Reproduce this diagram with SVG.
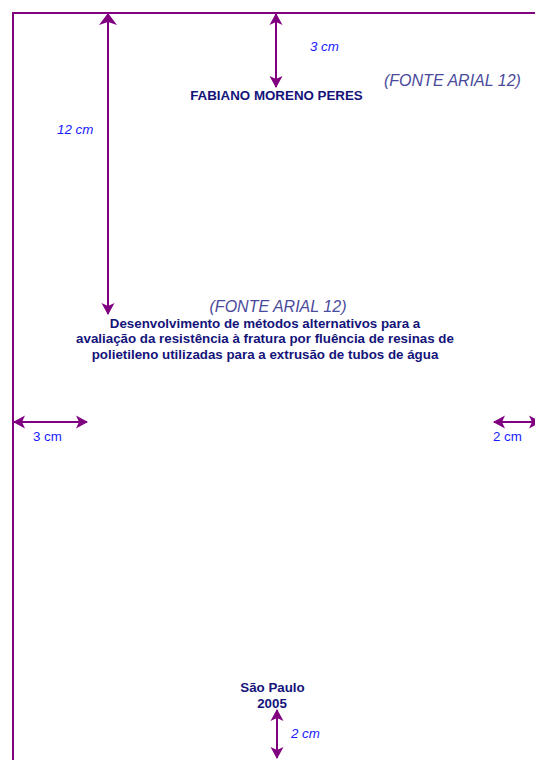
<svg xmlns="http://www.w3.org/2000/svg" width="535" height="760" viewBox="0 0 535 760">
<style>
.frame{stroke:#800080;stroke-width:2;fill:none}
.dim{stroke:#800080;stroke-width:2;fill:none}
.lbl{font-family:"Liberation Sans",Arial,sans-serif;font-size:13.33px;fill:#1a1aff}
.it{font-style:italic}
.ttl{font-family:"Liberation Sans",Arial,sans-serif;font-size:13.33px;font-weight:bold;fill:#14147a}
.fnt{font-family:"Liberation Sans",Arial,sans-serif;font-size:16px;font-style:italic;fill:#4a4a9c}
</style>
<defs>
<marker id="ah" markerUnits="userSpaceOnUse" viewBox="0 -7 12 14" markerWidth="12" markerHeight="14" refX="11" refY="0" orient="auto-start-reverse">
<path d="M0,-6.5 L12,0 L0,6.5 L3,0 z" fill="#800080"/>
</marker>
<marker id="ahL" markerUnits="userSpaceOnUse" viewBox="0 -9 12 18" markerWidth="12" markerHeight="18" refX="11" refY="0" orient="auto-start-reverse">
<path d="M0,-9 L12,0 L0,9 L3,0 z" fill="#800080"/>
</marker>
</defs>
<g id="frame">
<line class="frame" x1="13" y1="12" x2="13" y2="760"/>
<line class="frame" x1="12" y1="13" x2="535" y2="13"/>
</g>
<g id="connectors">
<line class="dim" x1="108" y1="14" x2="108" y2="314" marker-start="url(#ahL)" marker-end="url(#ah)"/>
<line class="dim" x1="276" y1="14" x2="276" y2="87" marker-start="url(#ah)" marker-end="url(#ah)"/>
<line class="dim" x1="14" y1="422" x2="87" y2="422" marker-start="url(#ah)" marker-end="url(#ah)"/>
<line class="dim" x1="494" y1="422" x2="540" y2="422" marker-start="url(#ah)" marker-end="url(#ah)"/>
<line class="dim" x1="277" y1="710" x2="277" y2="758" marker-start="url(#ah)" marker-end="url(#ah)"/>
</g>
<g id="label-12cm"><text class="lbl it" x="57" y="134">12 cm</text></g>
<g id="label-3cm-top"><text class="lbl it" x="310" y="51">3 cm</text></g>
<g id="note-font-top"><text class="fnt" x="384" y="85.5">(FONTE ARIAL 12)</text></g>
<g id="author"><text class="ttl" x="276.5" y="100" text-anchor="middle">FABIANO MORENO PERES</text></g>
<g id="note-font-title"><text class="fnt" x="278" y="312" text-anchor="middle">(FONTE ARIAL 12)</text></g>
<g id="title">
<text class="ttl" x="265" y="327.5" text-anchor="middle">Desenvolvimento de métodos alternativos para a</text>
<text class="ttl" x="265" y="343" text-anchor="middle">avaliação da resistência à fratura por fluência de resinas de</text>
<text class="ttl" x="265" y="358.5" text-anchor="middle">polietileno utilizadas para a extrusão de tubos de água</text>
</g>
<g id="label-3cm-left"><text class="lbl" x="33" y="441">3 cm</text></g>
<g id="label-2cm-right"><text class="lbl" x="493" y="441">2 cm</text></g>
<g id="place-year">
<text class="ttl" x="272.5" y="692" text-anchor="middle">São Paulo</text>
<text class="ttl" x="272" y="708" text-anchor="middle">2005</text>
</g>
<g id="label-2cm-bottom"><text class="lbl it" x="291" y="738">2 cm</text></g>
</svg>
